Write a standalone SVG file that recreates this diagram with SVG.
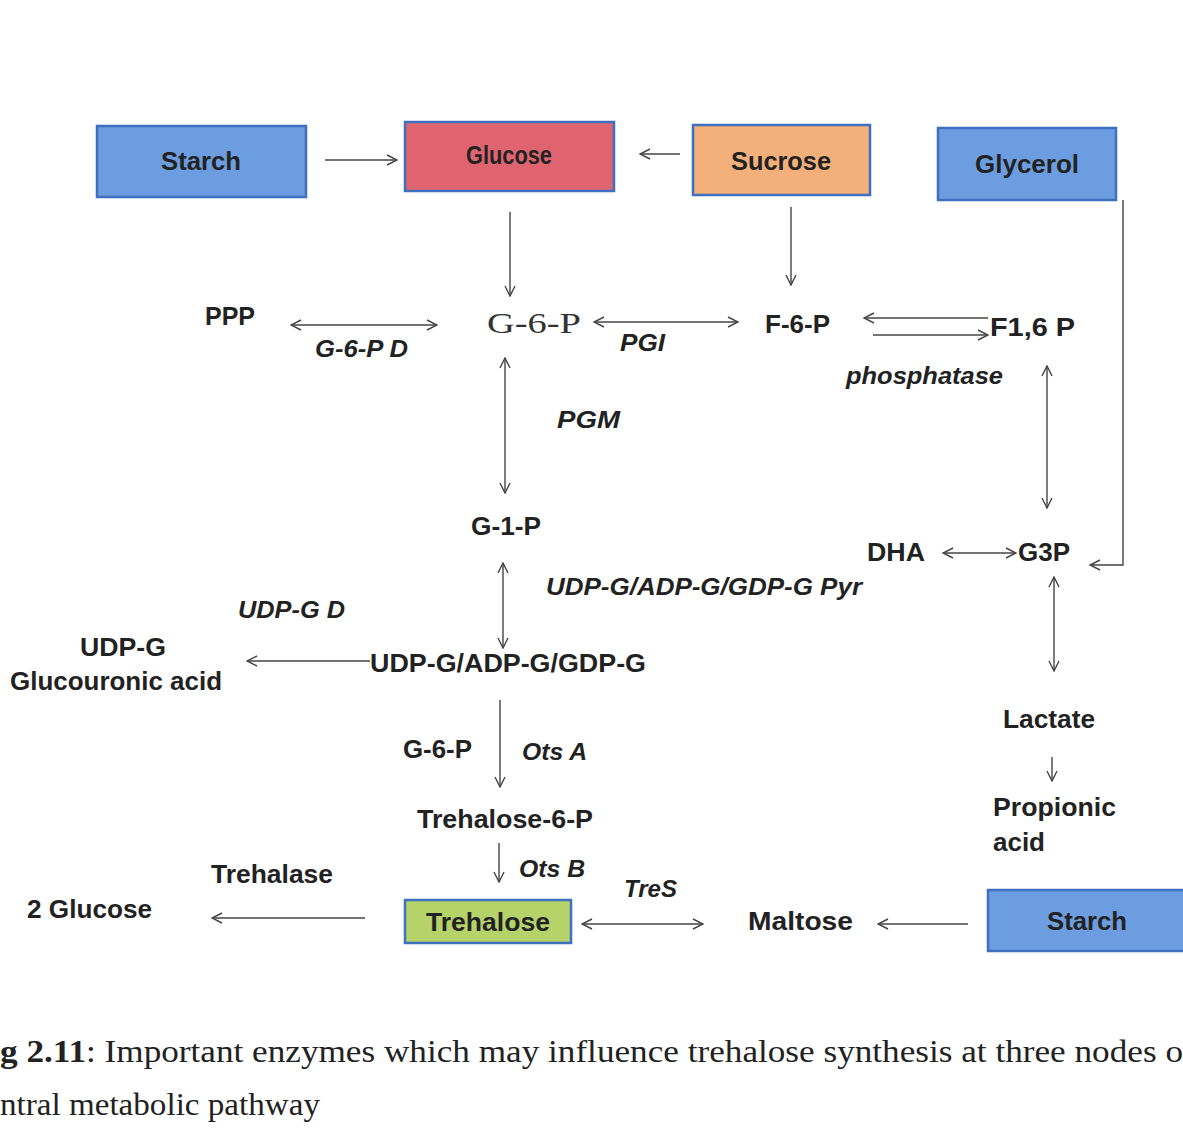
<svg xmlns="http://www.w3.org/2000/svg" width="1183" height="1136" viewBox="0 0 1183 1136">
<defs>
<marker id="ah" viewBox="0 0 12 12" refX="11" refY="6" markerWidth="12" markerHeight="12" markerUnits="userSpaceOnUse" orient="auto-start-reverse">
<path d="M1,1 L11,6 L1,11" fill="none" stroke="#444" stroke-width="1.4"/>
</marker>
<style>
.bx{stroke:#3f6fbf;stroke-width:2.5}
.blue{fill:#6c9de0}
.t{font-family:"Liberation Sans",Arial,sans-serif;font-weight:bold;font-size:25px;fill:#222}
.i{font-family:"Liberation Sans",Arial,sans-serif;font-weight:bold;font-style:italic;font-size:23px;fill:#222}
.s{font-family:"Liberation Serif","Times New Roman",serif;font-size:30px;fill:#333}
.c{font-family:"Liberation Serif","Times New Roman",serif;font-size:31px;fill:#222}
.ln{stroke:#444;stroke-width:1.4;fill:none}
.a1{marker-end:url(#ah)}
.a2{marker-start:url(#ah);marker-end:url(#ah)}
</style>
</defs>
<rect width="1183" height="1136" fill="#ffffff"/>

<g id="starch-top"><rect class="bx blue" x="97" y="126" width="209" height="71"/><text class="t" x="201" y="170" text-anchor="middle" textLength="80" lengthAdjust="spacingAndGlyphs">Starch</text></g>
<g id="glucose"><rect class="bx" fill="#e0646f" x="405" y="122" width="209" height="69"/><text class="t" x="509" y="164" text-anchor="middle" textLength="86" lengthAdjust="spacingAndGlyphs">Glucose</text></g>
<g id="sucrose"><rect class="bx" fill="#f4b07a" x="693" y="125" width="177" height="70"/><text class="t" x="781" y="170" text-anchor="middle" textLength="100" lengthAdjust="spacingAndGlyphs">Sucrose</text></g>
<g id="glycerol"><rect class="bx blue" x="938" y="128" width="178" height="72"/><text class="t" x="1027" y="173" text-anchor="middle" textLength="104" lengthAdjust="spacingAndGlyphs">Glycerol</text></g>
<g id="trehalose"><rect class="bx" fill="#b6d36a" x="405" y="900" width="166" height="43"/><text class="t" x="488" y="931" text-anchor="middle" textLength="124" lengthAdjust="spacingAndGlyphs">Trehalose</text></g>
<g id="starch-bottom"><rect class="bx blue" x="988" y="890" width="200" height="61"/><text class="t" x="1087" y="930" text-anchor="middle" textLength="80" lengthAdjust="spacingAndGlyphs">Starch</text></g>

<g id="ppp"><text class="t" x="205" y="325" textLength="50" lengthAdjust="spacingAndGlyphs">PPP</text></g>
<g id="g6p"><text class="s" x="487" y="333" textLength="94" lengthAdjust="spacingAndGlyphs">G-6-P</text></g>
<g id="f6p"><text class="t" x="765" y="333" textLength="65" lengthAdjust="spacingAndGlyphs">F-6-P</text></g>
<g id="f16p"><text class="t" x="990" y="336" textLength="85" lengthAdjust="spacingAndGlyphs">F1,6 P</text></g>
<g id="g1p"><text class="t" x="471" y="535" textLength="70" lengthAdjust="spacingAndGlyphs">G-1-P</text></g>
<g id="dha"><text class="t" x="867" y="561" textLength="58" lengthAdjust="spacingAndGlyphs">DHA</text></g>
<g id="g3p"><text class="t" x="1018" y="561" textLength="52" lengthAdjust="spacingAndGlyphs">G3P</text></g>
<g id="udpg-acid"><text class="t" x="123" y="656" text-anchor="middle" textLength="86" lengthAdjust="spacingAndGlyphs">UDP-G</text><text class="t" x="10" y="690" textLength="212" lengthAdjust="spacingAndGlyphs">Glucouronic acid</text></g>
<g id="udpg"><text class="t" x="370" y="672" textLength="276" lengthAdjust="spacingAndGlyphs">UDP-G/ADP-G/GDP-G</text></g>
<g id="lactate"><text class="t" x="1003" y="728" textLength="92" lengthAdjust="spacingAndGlyphs">Lactate</text></g>
<g id="propionic"><text class="t" x="993" y="816" textLength="123" lengthAdjust="spacingAndGlyphs">Propionic</text><text class="t" x="993" y="851" textLength="52" lengthAdjust="spacingAndGlyphs">acid</text></g>
<g id="g6p-2"><text class="t" x="403" y="758" textLength="69" lengthAdjust="spacingAndGlyphs">G-6-P</text></g>
<g id="t6p"><text class="t" x="417" y="828" textLength="176" lengthAdjust="spacingAndGlyphs">Trehalose-6-P</text></g>
<g id="glucose2"><text class="t" x="27" y="918" textLength="125" lengthAdjust="spacingAndGlyphs">2 Glucose</text></g>
<g id="maltose"><text class="t" x="748" y="930" textLength="105" lengthAdjust="spacingAndGlyphs">Maltose</text></g>

<g id="connectors">
<line class="ln a1" x1="325" y1="160" x2="397" y2="160"/>
<line class="ln a1" x1="680" y1="154" x2="640" y2="154"/>
<line class="ln a1" x1="510" y1="212" x2="510" y2="296"/>
<line class="ln a1" x1="791" y1="207" x2="791" y2="285"/>
<line class="ln a2" x1="291" y1="325" x2="437" y2="325"/>
<line class="ln a2" x1="594" y1="322" x2="738" y2="322"/>
<line class="ln a1" x1="988" y1="318" x2="864" y2="318"/>
<line class="ln a1" x1="873" y1="335" x2="988" y2="335"/>
<line class="ln a2" x1="505" y1="358" x2="505" y2="493"/>
<line class="ln a2" x1="1047" y1="366" x2="1047" y2="508"/>
<line class="ln a2" x1="943" y1="553" x2="1016" y2="553"/>
<polyline class="ln a1" points="1123,200 1123,565 1090,565"/>
<line class="ln a2" x1="1054" y1="577" x2="1054" y2="671"/>
<line class="ln a1" x1="1052" y1="757" x2="1052" y2="781"/>
<line class="ln a2" x1="503" y1="563" x2="503" y2="648"/>
<line class="ln a1" x1="370" y1="661" x2="247" y2="661"/>
<line class="ln a1" x1="500" y1="700" x2="500" y2="787"/>
<line class="ln a1" x1="499" y1="843" x2="499" y2="882"/>
<line class="ln a1" x1="365" y1="918" x2="212" y2="918"/>
<line class="ln a2" x1="582" y1="924" x2="703" y2="924"/>
<line class="ln a1" x1="968" y1="924" x2="878" y2="924"/>
</g>

<g id="labels">
<text class="i" x="315" y="357" textLength="93" lengthAdjust="spacingAndGlyphs">G-6-P D</text>
<text class="i" x="620" y="351" textLength="45" lengthAdjust="spacingAndGlyphs">PGI</text>
<text class="i" x="846" y="384" textLength="157" lengthAdjust="spacingAndGlyphs">phosphatase</text>
<text class="i" x="557" y="428" textLength="63" lengthAdjust="spacingAndGlyphs">PGM</text>
<text class="i" x="546" y="595" textLength="316" lengthAdjust="spacingAndGlyphs">UDP-G/ADP-G/GDP-G Pyr</text>
<text class="i" x="238" y="618" textLength="107" lengthAdjust="spacingAndGlyphs">UDP-G D</text>
<text class="i" x="522" y="760" textLength="65" lengthAdjust="spacingAndGlyphs">Ots A</text>
<text class="i" x="519" y="877" textLength="66" lengthAdjust="spacingAndGlyphs">Ots B</text>
<text class="t" x="211" y="883" textLength="122" lengthAdjust="spacingAndGlyphs">Trehalase</text>
<text class="i" x="624" y="897" textLength="53" lengthAdjust="spacingAndGlyphs">TreS</text>
</g>

<g id="caption">
<text class="c" x="0" y="1062" textLength="1183" lengthAdjust="spacingAndGlyphs"><tspan font-weight="bold">g 2.11</tspan>: Important enzymes which may influence trehalose synthesis at three nodes o</text>
<text class="c" x="0" y="1115" textLength="320" lengthAdjust="spacingAndGlyphs">ntral metabolic pathway</text>
</g>
</svg>
